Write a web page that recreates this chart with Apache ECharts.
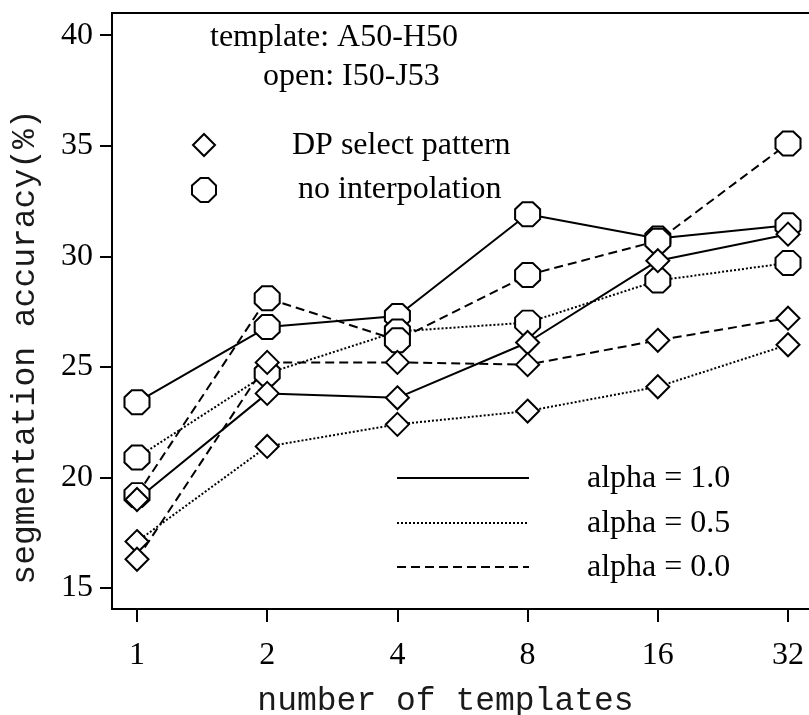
<!DOCTYPE html>
<html>
<head>
<meta charset="utf-8">
<script src="https://cdn.jsdelivr.net/npm/echarts@6/dist/echarts.min.js"></script>
<style>
html,body{margin:0;padding:0;background:#fff;}
#chart{width:809px;height:715px;}
</style>
</head>
<body>
<div id="chart"></div>
<script>
// ---- data ----
const categories = ['1', '2', '4', '8', '16', '32'];
const yTicks = [15, 20, 25, 30, 35, 40];
const dpAlpha10 = [19.0, 23.8, 23.6, 26.1, 29.8, 31.0];
const dpAlpha05 = [17.1, 21.4, 22.4, 23.0, 24.1, 26.0];
const dpAlpha00 = [16.3, 25.2, 25.2, 25.1, 26.2, 27.2];
const niAlpha10 = [23.4, 26.8, 27.3, 31.9, 30.8, 31.4];
const niAlpha05 = [20.9, 24.7, 26.6, 27.0, 28.9, 29.7];
const niAlpha00 = [19.2, 28.1, 26.2, 29.15, 30.7, 35.1];

const OCT = 'path://M29.3,0 L70.7,0 L100,29.3 L100,70.7 L70.7,100 L29.3,100 L0,70.7 L0,29.3 Z';
const SERIF = '"Liberation Serif", "DejaVu Serif", serif';
const MONO = '"Liberation Mono", "DejaVu Sans Mono", monospace';

const styles = {
  solid: { type: 'solid', width: 2 },
  dotted: { type: [2, 2], width: 2 },
  dashed: { type: [9, 5], width: 2 }
};

function pts(arr) { return arr.map((v, i) => [i, v]); }

const defs = [
  { name: 'NI a1.0', data: niAlpha10, ls: 'solid', sym: 'oct' },
  { name: 'NI a0.5', data: niAlpha05, ls: 'dotted', sym: 'oct' },
  { name: 'NI a0.0', data: niAlpha00, ls: 'dashed', sym: 'oct' },
  { name: 'DP a1.0', data: dpAlpha10, ls: 'solid', sym: 'diamond' },
  { name: 'DP a0.5', data: dpAlpha05, ls: 'dotted', sym: 'diamond' },
  { name: 'DP a0.0', data: dpAlpha00, ls: 'dashed', sym: 'diamond' }
];

const series = [];
defs.forEach(d => {
  series.push({
    name: d.name, type: 'line', data: pts(d.data), symbol: 'none',
    lineStyle: Object.assign({ color: '#000' }, styles[d.ls]),
    z: 2, animation: false, silent: true
  });
});
defs.forEach(d => {
  series.push({
    name: d.name + ' m', type: 'scatter', data: pts(d.data),
    symbol: d.sym === 'oct' ? OCT : 'diamond',
    symbolSize: d.sym === 'oct' ? [25, 24] : [23, 23],
    itemStyle: { color: '#fff', borderColor: '#000', borderWidth: 2, opacity: 1 },
    z: 3, animation: false, silent: true
  });
});

const chart = echarts.init(document.getElementById('chart'), null, { renderer: 'canvas' });
chart.setOption({
  backgroundColor: '#fff',
  animation: false,
  grid: { left: 112, top: 13, width: 707, height: 596, containLabel: false, outerBoundsMode: 'none',
    show: true, borderColor: '#000', borderWidth: 2 },
  xAxis: {
    type: 'value', min: -0.192, max: 5.238,
    name: 'number of templates', nameLocation: 'middle', nameGap: 76,
    nameTextStyle: { fontFamily: MONO, fontSize: 33, color: '#1a1a1a', padding: [0, 40, 0, 0] },
    axisLine: { show: true, onZero: false, lineStyle: { color: '#000', width: 2 } },
    axisTick: { show: true, length: 13, inside: false, customValues: [0, 1, 2, 3, 4, 5], lineStyle: { color: '#000', width: 2 } },
    axisLabel: { customValues: [0, 1, 2, 3, 4, 5], formatter: v => categories[Math.round(v)], margin: 31,
      fontFamily: SERIF, fontSize: 32, color: '#000' },
    splitLine: { show: false }
  },
  yAxis: {
    type: 'value', min: 14.05, max: 41,
    name: 'segmentation accuracy(%)', nameLocation: 'middle', nameGap: 70, nameRotate: 90,
    nameTextStyle: { fontFamily: MONO, fontSize: 33, color: '#1a1a1a', padding: [0, 72, 0, 0] },
    axisLine: { show: true, onZero: false, lineStyle: { color: '#000', width: 2 } },
    axisTick: { show: true, length: 12, inside: false, customValues: yTicks, lineStyle: { color: '#000', width: 2 } },
    axisLabel: { customValues: yTicks, margin: 19, fontFamily: SERIF, fontSize: 32, color: '#000' },
    splitLine: { show: false }
  },
  graphic: [
    { type: 'text', left: 210, top: 22, style: { text: 'template: A50-H50', font: '32px ' + SERIF, fill: '#000' } },
    { type: 'text', left: 263, top: 61, style: { text: 'open: I50-J53', font: '32px ' + SERIF, fill: '#000' } },
    { type: 'polygon', shape: { points: [[204, 134], [215, 145], [204, 156], [193, 145]] }, style: { fill: '#fff', stroke: '#000', lineWidth: 2 } },
    { type: 'text', left: 292, top: 130, style: { text: 'DP select pattern', font: '32px ' + SERIF, fill: '#000' } },
    { type: 'polygon', shape: { points: [[200.5, 178], [208.5, 178], [216, 185.5], [216, 194.5], [208.5, 202], [200.5, 202], [192, 194.5], [192, 185.5]] }, style: { fill: '#fff', stroke: '#000', lineWidth: 2 } },
    { type: 'text', left: 298, top: 174, style: { text: 'no interpolation', font: '32px ' + SERIF, fill: '#000' } },
    { type: 'line', shape: { x1: 397, y1: 478, x2: 529, y2: 478 }, style: { stroke: '#000', lineWidth: 2 } },
    { type: 'line', shape: { x1: 397, y1: 523, x2: 529, y2: 523 }, style: { stroke: '#000', lineWidth: 2, lineDash: [2, 2] } },
    { type: 'line', shape: { x1: 397, y1: 567, x2: 529, y2: 567 }, style: { stroke: '#000', lineWidth: 2, lineDash: [9, 5] } },
    { type: 'text', left: 587, top: 463, style: { text: 'alpha = 1.0', font: '32px ' + SERIF, fill: '#000' } },
    { type: 'text', left: 587, top: 508, style: { text: 'alpha = 0.5', font: '32px ' + SERIF, fill: '#000' } },
    { type: 'text', left: 587, top: 552, style: { text: 'alpha = 0.0', font: '32px ' + SERIF, fill: '#000' } }
  ],
  series: series
});
</script>
</body>
</html>
